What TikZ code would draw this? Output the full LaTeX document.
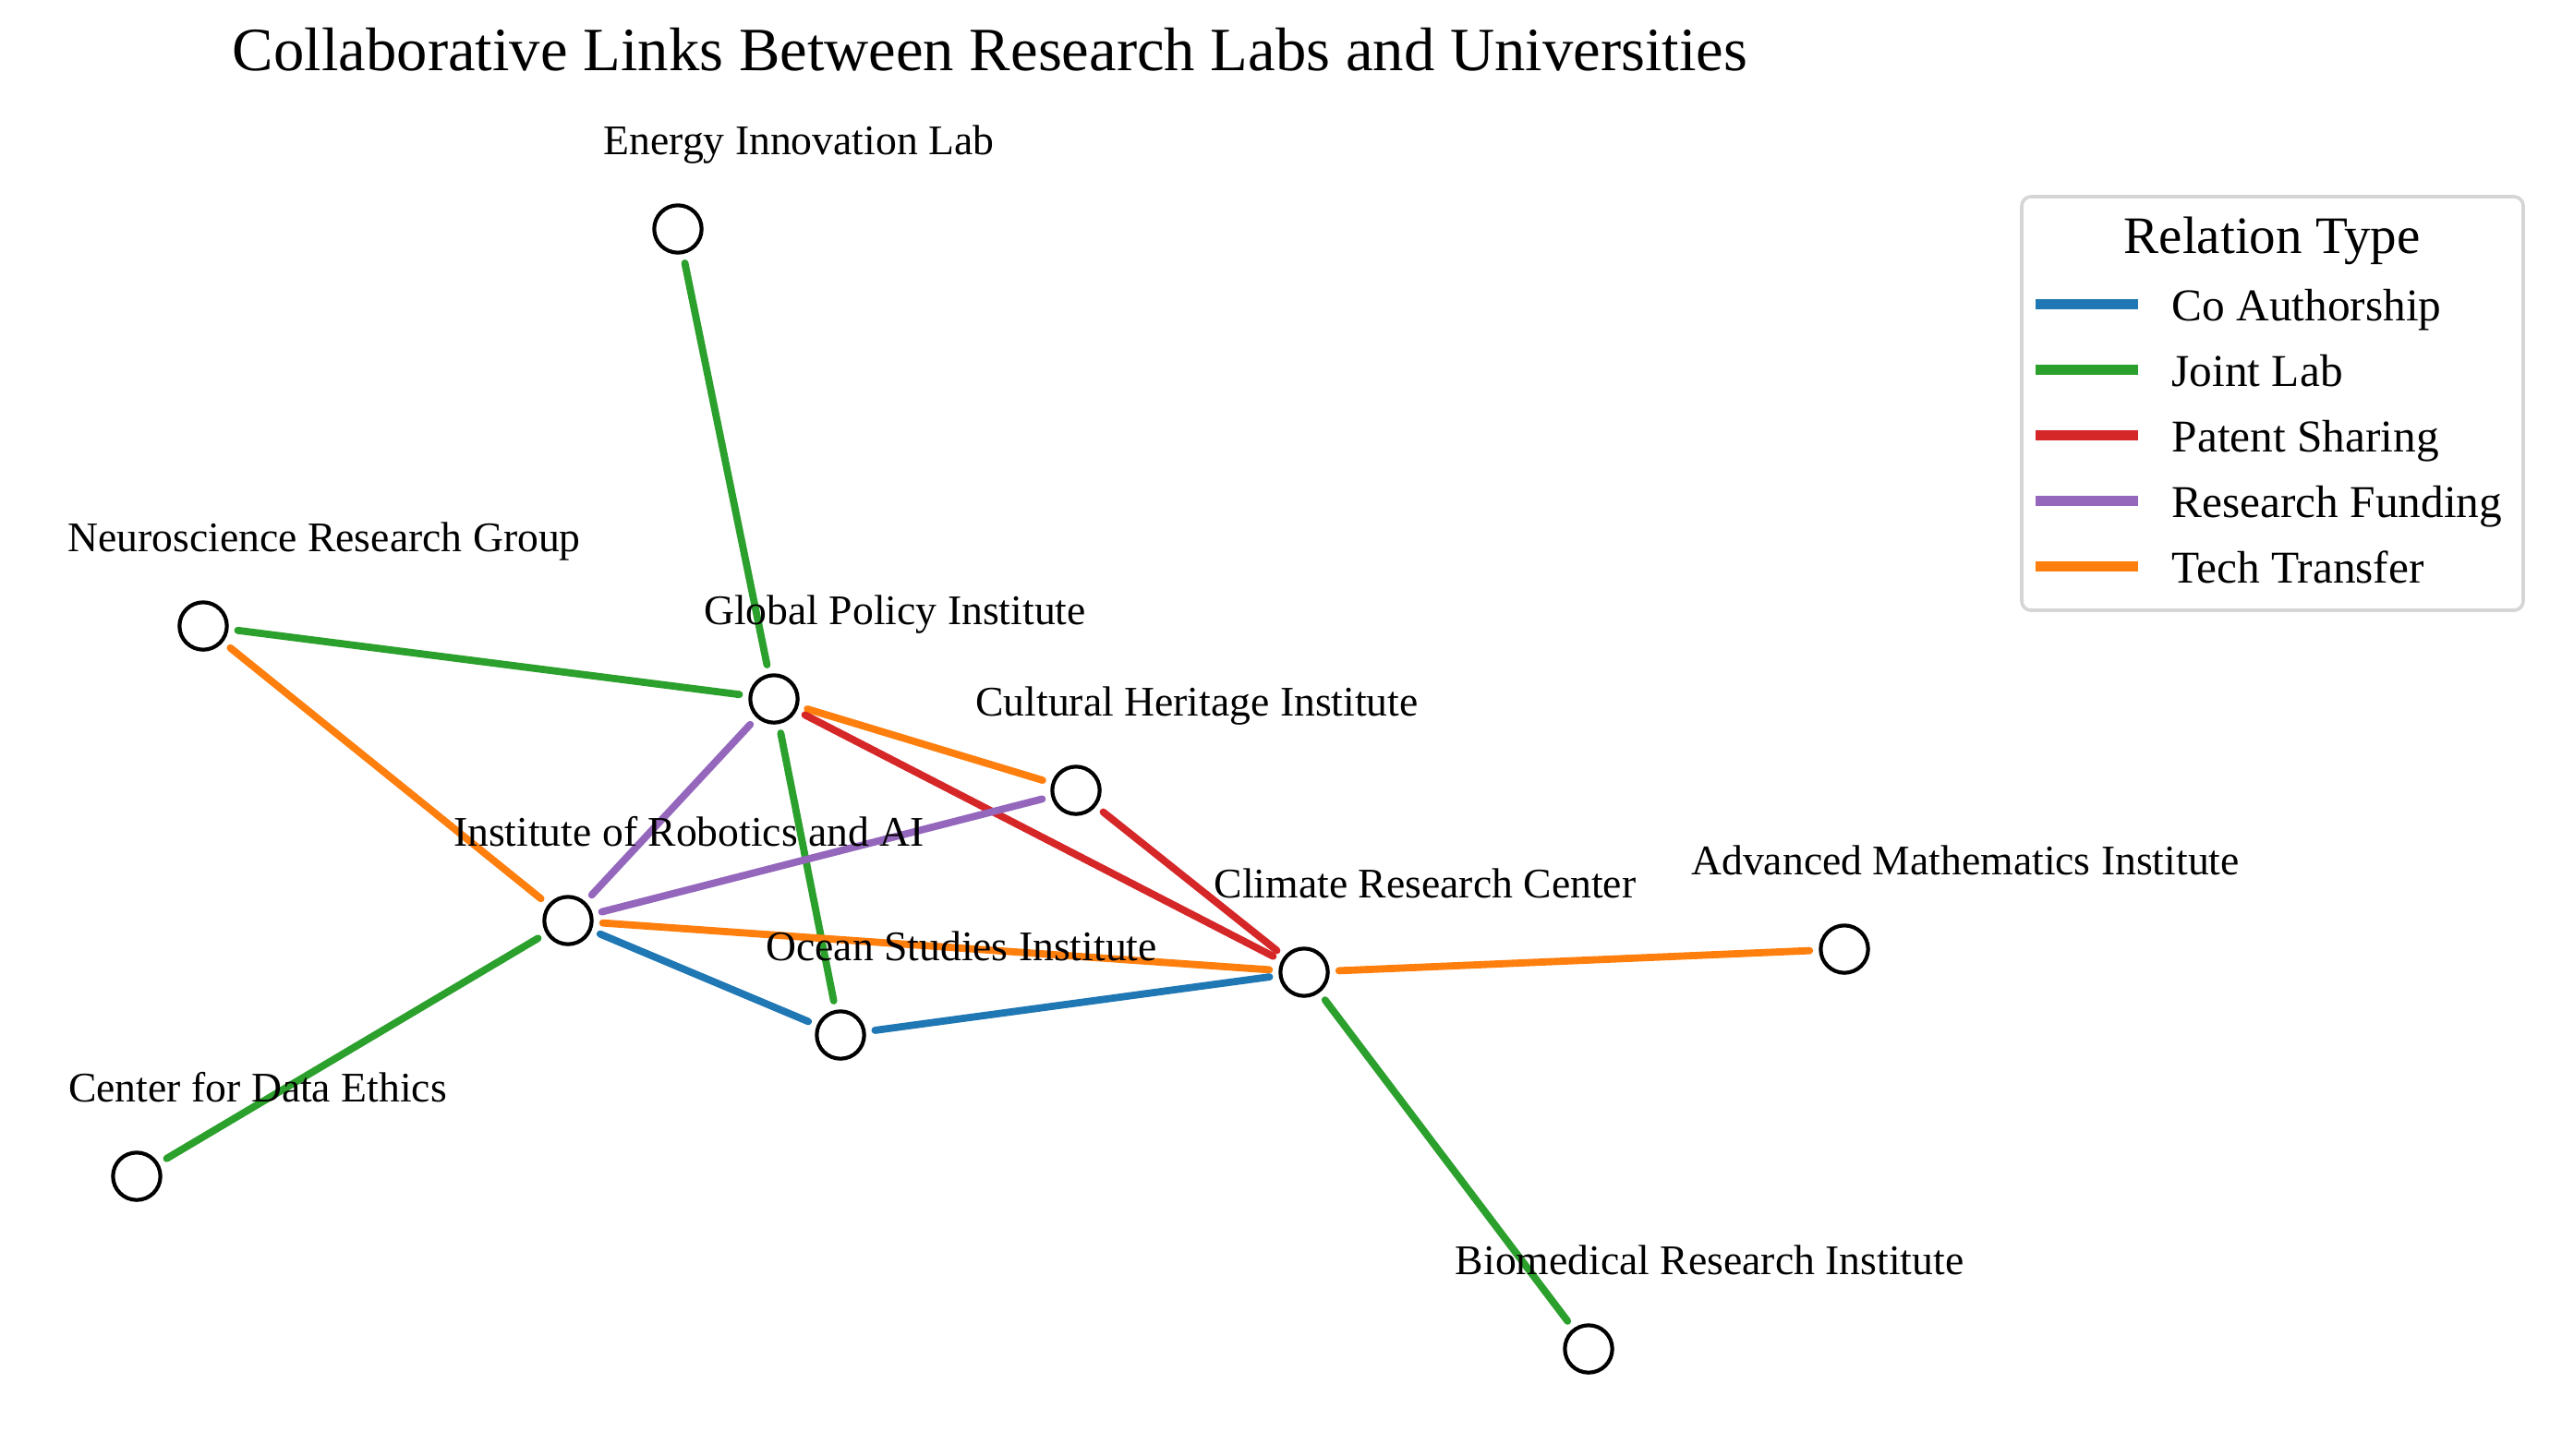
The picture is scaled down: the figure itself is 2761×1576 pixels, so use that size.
\documentclass[tikz,border=0pt]{standalone}
\usepackage{fontspec}
\setmainfont{Liberation Serif}
\usetikzlibrary{calc}
\definecolor{cblue}{HTML}{1F77B4}
\definecolor{cgreen}{HTML}{2CA02C}
\definecolor{cred}{HTML}{D62728}
\definecolor{cpurple}{HTML}{9467BD}
\definecolor{corange}{HTML}{FF7F0E}
\definecolor{legborder}{HTML}{D5D5D5}
\begin{document}
\begin{tikzpicture}[x=0.3pt,y=-0.3pt,
  vtx/.style={circle,draw=black,fill=white,line width=1.25pt,minimum size=15.4pt,inner sep=0pt},
  lab/.style={anchor=base,inner sep=0pt,font=\fontsize{13.7}{16}\selectfont},
  edge/.style={line width=2.35pt,line cap=round,shorten >=3pt,shorten <=3pt},
  coauth/.style={edge,draw=cblue},
  joint/.style={edge,draw=cgreen},
  patent/.style={edge,draw=cred},
  funding/.style={edge,draw=cpurple},
  tech/.style={edge,draw=corange},
  legline/.style={line width=3.3pt},
  legtext/.style={anchor=base west,inner sep=0pt,font=\fontsize{14.8}{17}\selectfont}
]
\useasboundingbox (0,0) rectangle (2761,1576);
\fill[white] (0,0) rectangle (2761,1576);

% title
\node[anchor=base,inner sep=0pt,font=\fontsize{20}{24}\selectfont] (title) at (1072,76) {Collaborative Links Between Research Labs and Universities};

% vertices
\node[vtx] (energy)   at (734,248)   {};
\node[vtx] (neuro)    at (220,678)   {};
\node[vtx] (global)   at (838,757)   {};
\node[vtx] (cultural) at (1165,856)  {};
\node[vtx] (robotics) at (615,997)   {};
\node[vtx] (ocean)    at (910,1121)  {};
\node[vtx] (climate)  at (1412,1053) {};
\node[vtx] (advmath)  at (1997,1028) {};
\node[vtx] (ethics)   at (148,1274)  {};
\node[vtx] (biomed)   at (1720,1461) {};

% edges
\draw[joint] (energy) -- (global);
\draw[joint] (neuro) -- (global);
\draw[joint] (global) -- (ocean);
\draw[joint] (robotics) -- (ethics);
\draw[joint] (climate) -- (biomed);
\draw[tech] (neuro) -- (robotics);
\draw[tech] (global) -- (cultural);
\draw[tech] (robotics) -- (climate);
\draw[tech] (climate) -- (advmath);
\draw[patent] (global) -- (climate);
\draw[patent] (cultural) -- (climate);
\draw[funding] (robotics) -- (global);
\draw[funding] (robotics) -- (cultural);
\draw[coauth] (robotics) -- (ocean);
\draw[coauth] (ocean) -- (climate);

% labels
\node[lab] (lenergy)   at ($(energy)+(131,-81)$)   {Energy Innovation Lab};
\node[lab] (lneuro)    at ($(neuro)+(131,-81)$)    {Neuroscience Research Group};
\node[lab] (lglobal)   at ($(global)+(131,-81)$)   {Global Policy Institute};
\node[lab] (lcultural) at ($(cultural)+(131,-81)$) {Cultural Heritage Institute};
\node[lab] (lrobotics) at ($(robotics)+(131,-81)$) {Institute of Robotics and AI};
\node[lab] (locean)    at ($(ocean)+(131,-81)$)    {Ocean Studies Institute};
\node[lab] (lclimate)  at ($(climate)+(131,-81)$)  {Climate Research Center};
\node[lab] (ladvmath)  at ($(advmath)+(131,-81)$)  {Advanced Mathematics Institute};
\node[lab] (lethics)   at ($(ethics)+(131,-81)$)   {Center for Data Ethics};
\node[lab] (lbiomed)   at ($(biomed)+(131,-81)$)   {Biomedical Research Institute};

% legend
\draw[legborder,fill=white,line width=1.1pt,rounded corners=3pt] (2189,213) rectangle (2732,661);
\node[anchor=base,inner sep=0pt,font=\fontsize{17.1}{20}\selectfont] (legtitle) at (2460,274) {Relation Type};
\draw[legline,cblue]   (2204,329) -- (2315,329);
\draw[legline,cgreen]  (2204,400) -- (2315,400);
\draw[legline,cred]    (2204,471) -- (2315,471);
\draw[legline,cpurple] (2204,542) -- (2315,542);
\draw[legline,corange] (2204,613) -- (2315,613);
\node[legtext] (lt1) at (2351,347) {Co Authorship};
\node[legtext] (lt2) at (2351,418) {Joint Lab};
\node[legtext] (lt3) at (2351,489) {Patent Sharing};
\node[legtext] (lt4) at (2351,560) {Research Funding};
\node[legtext] (lt5) at (2351,631) {Tech Transfer};
\end{tikzpicture}
\end{document}
